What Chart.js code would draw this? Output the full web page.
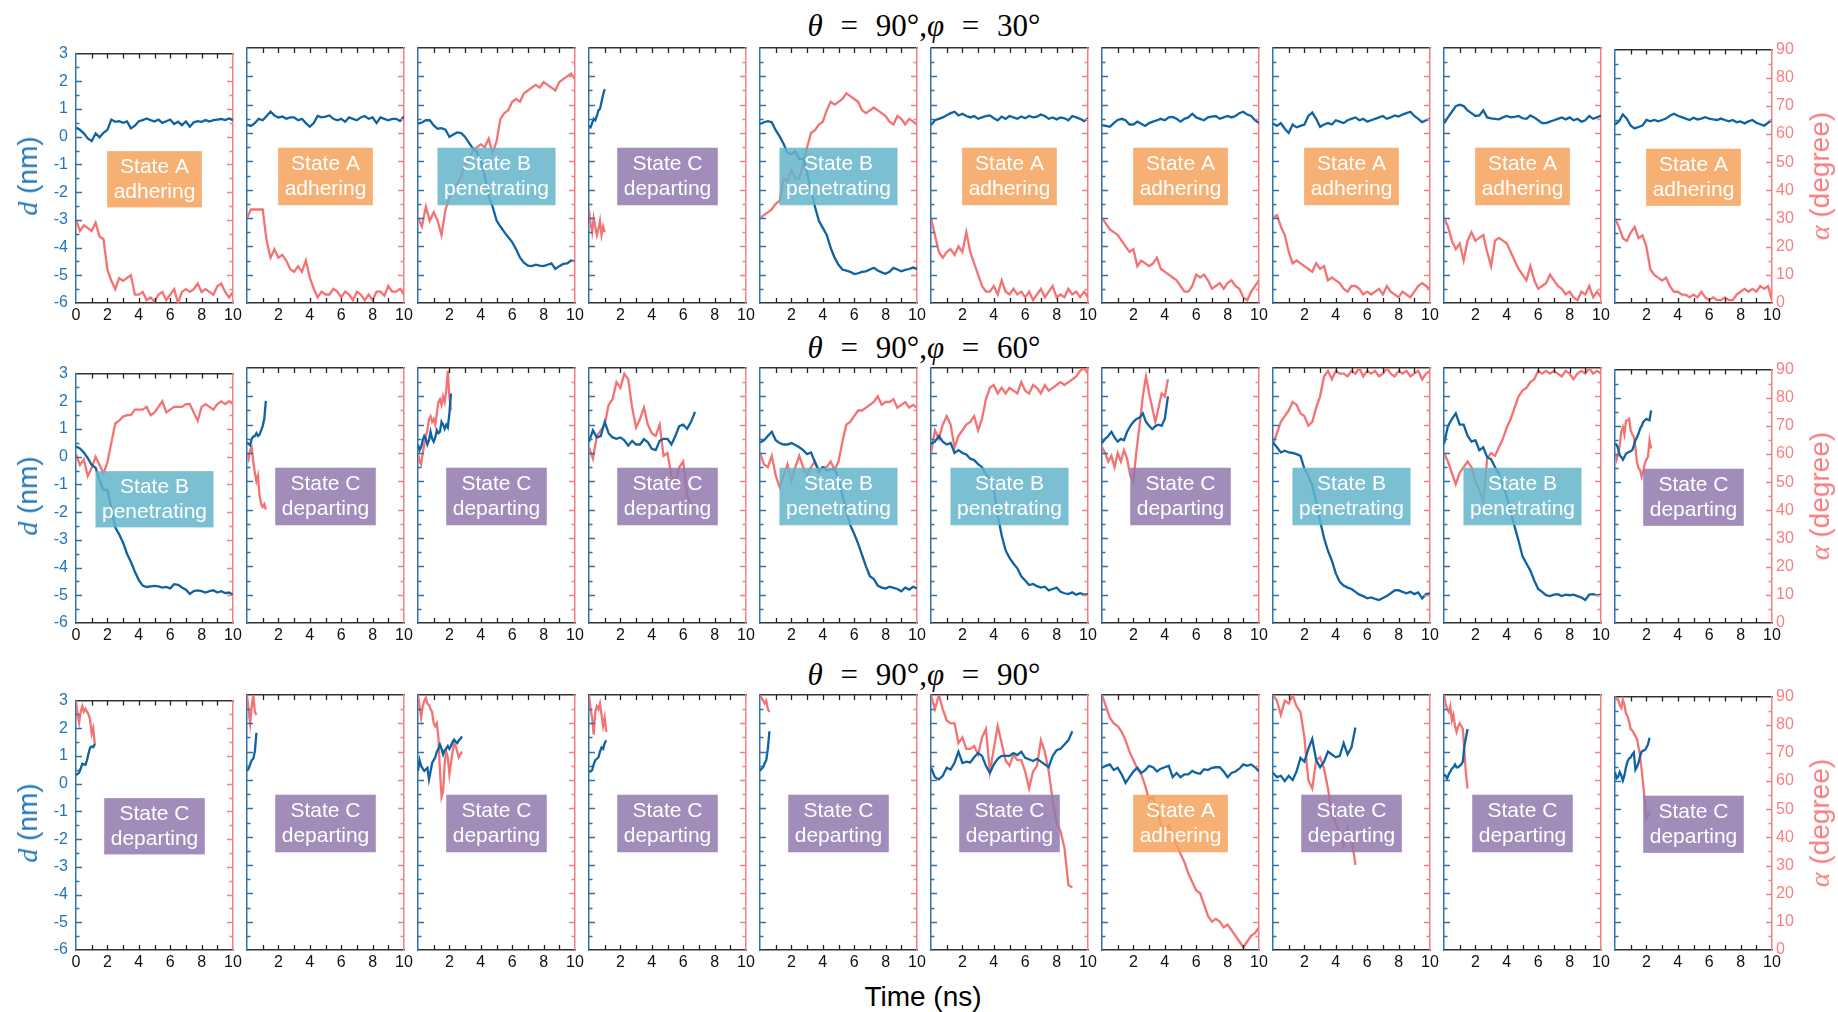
<!DOCTYPE html>
<html>
<head>
<meta charset="utf-8">
<script src="https://cdn.jsdelivr.net/npm/chart.js@4.4.1/dist/chart.umd.min.js"></script>
<style>
  html, body { margin: 0; padding: 0; background: #fff; }
  #wrap { position: relative; width: 1838px; height: 1012px; overflow: hidden; }
  #wrap canvas { position: absolute; }
  .rowTitle { position: absolute; font-family: "Liberation Serif", "DejaVu Serif", serif; font-size: 31px; color: #000;
    transform: translate(-50%, -50%); white-space: nowrap; word-spacing: 10px; }
  .yTitle { position: absolute; font-family: "Liberation Sans", Arial, sans-serif; font-size: 28px; white-space: nowrap;
    transform: translate(-50%, -50%) rotate(-90deg); }
  .yTitle i { font-family: "Liberation Serif", serif; }
  #xTitle { position: absolute; left: 923px; top: 997px; transform: translate(-50%, -50%);
    font-family: "Liberation Sans", Arial, sans-serif; font-size: 28px; color: #000; white-space: nowrap; }
</style>
</head>
<body>
<div id="wrap">
  <div class="rowTitle" style="left:924px;top:26px"><i>θ</i> = 90°,<i>φ</i> = 30°</div>
  <div class="rowTitle" style="left:924px;top:348px"><i>θ</i> = 90°,<i>φ</i> = 60°</div>
  <div class="rowTitle" style="left:924px;top:675px"><i>θ</i> = 90°,<i>φ</i> = 90°</div>
  <div id="xTitle">Time (ns)</div>
</div>
<script>
// time step (ns) of each trace, one per panel
const step30 = [0.25, 0.25, 0.25, 0.1, 0.25, 0.25, 0.25, 0.25, 0.25, 0.25];
const step60 = [0.25, 0.1, 0.1, 0.25, 0.25, 0.25, 0.2, 0.25, 0.25, 0.1];
const step90 = [0.1, 0.1, 0.1, 0.1, 0.1, 0.25, 0.25, 0.25, 0.1, 0.1];

const s30 = ['A', 'A', 'B', 'C', 'B', 'A', 'A', 'A', 'A', 'A'];
const s60 = ['B', 'C', 'C', 'C', 'B', 'B', 'C', 'B', 'B', 'C'];
const s90 = ['C', 'C', 'C', 'C', 'C', 'C', 'A', 'C', 'C', 'C'];

// d (nm), phi = 30
const d30 = [
  [0.33,0.25,0.12,-0.06,-0.16,0.12,-0.02,0.14,0.25,0.62,0.54,0.56,0.5,0.55,0.3,0.4,0.56,0.6,0.66,0.6,0.55,0.62,0.5,0.56,0.62,0.46,0.54,0.42,0.55,0.36,0.52,0.56,0.54,0.6,0.55,0.6,0.62,0.64,0.6,0.66,0.6],
  [0.3,0.25,0.35,0.5,0.45,0.6,0.75,0.62,0.55,0.58,0.5,0.55,0.55,0.45,0.5,0.35,0.22,0.35,0.6,0.55,0.58,0.62,0.5,0.45,0.5,0.4,0.55,0.5,0.45,0.55,0.6,0.5,0.55,0.35,0.55,0.5,0.45,0.5,0.5,0.42,0.58],
  [0.33,0.37,0.45,0.45,0.27,0.15,0.17,0.12,-0.14,-0.05,0.02,0.0,-0.14,-0.35,-0.55,-0.67,-1.0,-1.5,-2.2,-2.6,-3.08,-3.3,-3.5,-3.68,-3.85,-4.1,-4.4,-4.58,-4.68,-4.7,-4.65,-4.68,-4.7,-4.65,-4.6,-4.8,-4.7,-4.62,-4.6,-4.5,-4.53],
  [0.25,0.2,0.35,0.5,0.45,0.6,0.8,0.85,1.1,1.35,1.55],
  [0.32,0.38,0.42,0.38,0.1,-0.12,-0.38,-0.7,-0.75,-0.65,-0.92,-0.9,-1.4,-2.0,-2.6,-3.1,-3.35,-3.6,-4.05,-4.4,-4.65,-4.82,-4.86,-4.9,-4.98,-4.95,-4.9,-4.88,-4.82,-4.76,-4.85,-4.92,-4.97,-4.9,-4.76,-4.82,-4.88,-4.83,-4.8,-4.75,-4.8],
  [0.28,0.45,0.5,0.55,0.63,0.7,0.75,0.62,0.68,0.6,0.55,0.6,0.5,0.55,0.6,0.62,0.52,0.45,0.58,0.5,0.6,0.55,0.5,0.58,0.52,0.6,0.55,0.58,0.65,0.6,0.5,0.55,0.48,0.55,0.52,0.45,0.6,0.55,0.5,0.42,0.52],
  [0.28,0.25,0.22,0.35,0.46,0.5,0.45,0.3,0.3,0.4,0.33,0.25,0.35,0.4,0.45,0.5,0.45,0.55,0.57,0.5,0.4,0.5,0.55,0.68,0.55,0.5,0.45,0.55,0.58,0.6,0.5,0.55,0.6,0.55,0.6,0.7,0.75,0.65,0.6,0.45,0.35],
  [0.34,0.25,0.35,0.15,0.0,0.3,0.2,0.25,0.3,0.6,0.72,0.5,0.22,0.3,0.35,0.3,0.45,0.4,0.35,0.45,0.5,0.55,0.45,0.5,0.4,0.45,0.5,0.55,0.6,0.5,0.55,0.62,0.58,0.65,0.7,0.75,0.6,0.5,0.38,0.45,0.5],
  [0.34,0.55,0.75,0.95,1.0,0.95,0.8,0.7,0.6,0.62,0.8,0.55,0.52,0.5,0.48,0.55,0.6,0.55,0.57,0.6,0.52,0.5,0.62,0.55,0.45,0.35,0.35,0.4,0.45,0.5,0.55,0.48,0.55,0.45,0.5,0.4,0.45,0.6,0.5,0.55,0.62],
  [0.34,0.45,0.7,0.55,0.3,0.2,0.25,0.3,0.5,0.45,0.5,0.45,0.5,0.55,0.65,0.72,0.65,0.6,0.55,0.5,0.58,0.52,0.55,0.6,0.55,0.52,0.5,0.55,0.5,0.45,0.5,0.42,0.45,0.38,0.45,0.5,0.4,0.35,0.3,0.4,0.5]
];
// alpha (degree), phi = 30
const a30 = [
  [30,26,28,27,26,29,24,23,12,8,5,9,8,9,10,3,3,4,1,2,0.5,3,4,1,3,5,0,4,5,4,5,7,4,5,4,3,6,7,4,2,4],
  [30,33,33,33,33,22,16,19,16,17,15,12,11,13,11,15,9,5,2,4,3,3,5,4,2,4,3,1,4,3,1,3,1,4,4,2.6,6,4,4,5,3],
  [30,27,34,29,32,29,24,33,37,40,42,45,49,51,54,55,56,55,58,53,57,65,67,68,71,72,71,74,75,76,77,76,78,77,76,75,78,79,80,81,79],
  [33,28,25,30,27,24,26,29,24,27,25],
  [30,31,32,33,35,36,44,43,47,44,44,49,55,60,61,63,64,68,71,70,71,72,74,73,72,71,68,67,68,69,68,67,66,64,63,66,65,63,65,64,63],
  [30,24,18,16,18,19,17,20,18,25,18,14,10,6,4,4,6,3,8,4,3,5,3,4,2,4,1,3,5,2,4,6,2,3,2,5,3,4,2,4,2],
  [30,28,26,25,24,22,20,18,19,13,15,14,13,14,16,12,11,10,9,8,6,4,4,6,10,9,10,8,5,6,7,5,7,8,6,5,2,1,4,6,8],
  [30,31,27,24,18,14,15,14,13,12,11,14,12,13,8,9,8,7,5,4,6,6,5,3,4,3,4,5,3,6,4,3,2,4,3,2,4,6,7,6,5],
  [30,27,22,19,21,15,22,25,22,23,24,18,13,22,23,22,21,18,15,12,10,8,13,8,5,6,7,10,8,6,5,3,4,2,1,4,3,6,2,4,2],
  [30,27,23,22,25,27,23,24,20,12,10,9,8,9,6,4,4,3,3,2,3,2,4,2,1,2,1,1,2,1,1,3,4,5,4,5,4,6,5,6,1]
];

// d (nm), phi = 60
const d60 = [
  [0.37,0.3,0.15,-0.05,-0.3,-0.4,-0.85,-1.2,-1.2,-1.85,-2.55,-2.8,-3.1,-3.5,-3.8,-4.15,-4.45,-4.65,-4.7,-4.68,-4.66,-4.68,-4.72,-4.7,-4.75,-4.6,-4.62,-4.72,-4.8,-4.95,-4.85,-4.82,-4.85,-4.9,-4.85,-4.82,-4.9,-4.85,-4.92,-4.9,-4.98],
  [0.37,0.32,0.27,0.5,0.58,0.6,0.7,0.6,0.65,0.8,0.95,1.2,1.84],
  [0.3,0.1,0.2,0.45,0.6,0.5,0.3,0.45,0.75,0.5,0.4,0.55,0.8,0.7,0.75,1.1,1.0,0.85,1.0,0.9,1.4,2.1],
  [0.4,0.8,0.55,0.6,1.1,0.7,0.55,0.5,0.55,0.45,0.26,0.43,0.3,0.3,0.49,0.38,0.15,0.1,0.43,0.5,0.5,0.3,0.6,0.95,1.0,0.85,1.1,1.45],
  [0.37,0.45,0.6,0.75,0.45,0.35,0.3,0.3,0.35,0.28,0.2,0.1,-0.04,0.02,-0.33,-0.62,-0.5,-0.62,-0.58,-0.56,-0.9,-1.5,-2.05,-2.55,-2.85,-3.2,-3.6,-4.0,-4.35,-4.45,-4.68,-4.75,-4.78,-4.72,-4.76,-4.8,-4.88,-4.75,-4.82,-4.72,-4.78],
  [0.32,0.4,0.6,0.4,0.3,0.35,0.0,0.1,0.0,-0.05,-0.2,-0.25,-0.39,-0.5,-0.75,-0.9,-1.26,-2.2,-2.9,-3.43,-3.7,-3.9,-4.07,-4.35,-4.5,-4.66,-4.62,-4.7,-4.75,-4.72,-4.85,-4.8,-4.75,-4.9,-4.95,-4.98,-4.92,-5.0,-4.95,-5.0,-4.98],
  [0.35,0.5,0.6,0.75,0.55,0.4,0.5,0.45,0.75,0.95,1.1,1.2,1.25,1.4,1.1,0.96,0.84,0.95,1.0,0.96,1.2,2.0],
  [0.37,0.2,0.02,0.08,0.02,0.0,-0.04,-0.1,-0.56,-0.8,-1.15,-1.73,-2.4,-3.0,-3.45,-3.8,-4.25,-4.55,-4.68,-4.75,-4.8,-4.9,-5.0,-5.05,-5.13,-5.1,-5.15,-5.19,-5.12,-5.05,-4.95,-4.85,-4.84,-4.9,-4.95,-4.9,-4.98,-4.92,-5.13,-4.98,-4.95],
  [0.32,0.95,1.2,1.4,1.0,1.0,0.61,0.4,0.45,0.1,0.2,-0.15,-0.22,-0.5,-0.75,-1.1,-1.55,-2.1,-2.6,-3.1,-3.65,-3.9,-4.15,-4.5,-4.8,-4.9,-5.02,-5.05,-5.0,-4.98,-5.05,-5.0,-5.02,-5.0,-5.05,-5.1,-5.19,-5.0,-4.98,-5.02,-5.0],
  [0.37,0.33,0.2,-0.04,-0.1,-0.2,-0.1,0.02,0.05,0.08,0.1,0.14,0.3,0.49,0.6,0.73,0.9,1.0,1.14,1.2,1.25,1.22,1.2,1.55]
];
// alpha (degree), phi = 60
const a60 = [
  [61,57,59,53,56,60,57,54,58,65,72,73,74.5,75,75,77,77,77,78,75,76,78,80,76,77,78,78,78,79,79,76,73,78,79,78,77,79,80,79,80,79],
  [60,58,61,62,57,53,50,52,45,42,41,42,40],
  [60,57,56,60,63,66,68,72,73,71,72,70,74,78,79,77,80,78,82,89,80,75],
  [62,58,66,68,70,77,79,85,83,88,86,76,69,72,76,70,67,66,70,59,60,52,50,55,57,45,42,41],
  [60,56,55,59,52,48,52,56,50,55,59,55,52,55,57,53,55,55,57,54,57,64,70,71,73,75,75,76,77,78,80,77,78,78,79,76,77,78,76,77,76],
  [60,68,65,70,73,70,62,66,68,70,71,73,68,72,79,83,84,81,83,81,83,82,81,85,82,81,84,83,81,84,82,83,84,85,84,85,86,87,89,90,88],
  [62,60,57,59,55,60,57,61,58,52,50,61,70,80,87,81,76,71,76,81,80,86],
  [63,67,71,73,75,78,77,74,73,69.6,71,76,80,87,89,86,89,88,88,87,89,88,90,87,89,88,89,87,88,90,88,87,89,88,89,87,88,89,86,88,89],
  [60,57,53,49,53,55,57,55,50,47,43,58,60,59,62,65,69,72,76,80,82,83,85,86,89,88,89,88,89,88,87,89,88,86,88,89,88,90,88,89,88],
  [60,58,60,63,68,69.6,67,71.9,72,72.5,68.4,67,66,62.5,57,55,54.3,52,54,56.7,58,59,64.9,62]
];

// d (nm), phi = 90
const d90 = [
  [0.32,0.35,0.4,0.55,0.72,0.7,0.68,0.85,1.1,1.3,1.35,1.32,1.43],
  [0.32,0.4,0.55,0.7,0.75,1.0,1.66],
  [0.32,0.7,0.5,0.4,0.32,0.38,0.43,0.02,0.3,0.6,0.7,0.8,1.0,1.1,1.25,1.1,0.9,1.05,1.1,1.2,1.1,1.2,1.35,1.43,1.35,1.3,1.4,1.45,1.54],
  [0.32,0.3,0.35,0.55,0.7,0.75,0.8,1.0,1.15,1.1,1.3,1.4],
  [0.32,0.4,0.45,0.6,0.7,1.1,1.72],
  [0.43,0.1,0.02,0.15,0.43,0.37,0.61,1.0,0.6,0.65,0.62,0.8,0.95,0.85,0.5,0.25,0.55,0.75,0.85,0.85,0.85,0.95,0.88,1.0,0.78,0.73,0.67,0.75,0.65,0.55,0.45,0.85,1.05,1.1,1.25,1.4,1.72],
  [0.43,0.5,0.55,0.35,0.43,0.2,-0.1,0.1,0.3,0.43,0.25,0.35,0.5,0.45,0.3,0.4,0.45,0.5,0.1,0.25,0.1,0.2,0.2,0.32,0.25,0.22,0.38,0.35,0.43,0.45,0.45,0.3,0.1,0.25,0.3,0.4,0.55,0.5,0.55,0.45,0.3],
  [0.26,0.1,0.15,-0.04,0.15,0.0,0.3,0.78,0.65,1.1,1.45,0.7,0.45,0.65,1.0,0.9,0.8,0.85,1.3,0.9,1.15,1.85],
  [0.2,0.15,0.05,0.2,0.3,0.4,0.45,0.55,0.45,0.45,0.5,0.55,0.65,1.2,1.5,1.8],
  [0.32,0.1,0.15,0.32,0.2,0.02,0.2,0.5,0.7,0.8,0.84,0.95,1.02,0.4,0.5,0.65,0.9,1.05,1.08,1.1,1.19,1.3,1.54]
];
// alpha (degree), phi = 90
const a90 = [
  [90,85,82,86,88,86,87,86,85,83,78,80,74],
  [90,85,80,86,90,84,83],
  [90,86,82,86,88,89,87,86.5,85,84,80,79,80,75,63,54,56,66,70,68,62,66,70,73,72,70,68,69,70],
  [90,85,82,76,84,86,85,87,83,79,82,77],
  [90,89,88,87,88,85,84],
  [90,85,90,85,81,80,80,73,75,71,71,72,69,75,78,63,71,79,73,67,65,69,67,67,63,57,63,65,74,70,63,53,45,42,36,23,22],
  [90,86,82,80,79,77,74,70,67,64,62,58,53,54,50,44,42,44,40,37,34,31,27,24,21,20,16,12,10,11,10,8,9,7,5,3,1,3,5,6,8],
  [90,88,83,88,87,90,86,84,75,60,57,67,68,64,57,48,45,41,37,43,40,30],
  [90,87,85,84,86,81,83,79,77,79,80,79,78,70,62,57],
  [90,89,89,87,86,88.9,87,84,83,81,78.4,78,77,76,75,72,69,64,58.5,53,47,48,49]
];

const rows = [
  { d: d30, a: a30, step: step30, state: s30 },
  { d: d60, a: a60, step: step60, state: s60 },
  { d: d90, a: a90, step: step90, state: s90 }
];

const stateText = { A: ['State A', 'adhering'], B: ['State B', 'penetrating'], C: ['State C', 'departing'] };
const stateFill = { A: 'rgba(246,162,90,0.85)', B: 'rgba(100,181,202,0.85)', C: 'rgba(144,120,174,0.85)' };

const BLUE = '#0f63a3', RED = '#f37373';
const BLUE_AX = '#2f72ad', RED_AX = '#f28080';
const BLUE_TXT = '#1f76b9', RED_TXT = '#f77f7f';
const TICK_FONT = { family: '"Liberation Sans", Arial, sans-serif', size: 16 };

// panel geometry
const rowTop = [48, 368, 695];
const X0 = 76, PITCH = 171, PW = 157, PH = 255;
const ML = 76, MR = 70, MT = 12, MB = 30;

const wrap = document.getElementById('wrap');

// state label box, drawn over the lines (semi transparent)
const stateBox = {
  id: 'stateBox',
  afterDatasetsDraw(chart, args, opts) {
    const { ctx, chartArea: a, scales: { y } } = chart;
    const lines = stateText[opts.state];
    ctx.save();
    ctx.font = '21px "Liberation Sans", Arial, sans-serif';
    const w = Math.max(...lines.map(t => ctx.measureText(t).width)) + 13;
    const top = y.getPixelForValue(-0.52), bot = y.getPixelForValue(-2.55);
    const cx = (a.left + a.right) / 2, cy = (top + bot) / 2;
    ctx.fillStyle = stateFill[opts.state];
    ctx.fillRect(cx - w / 2, top, w, bot - top);
    ctx.fillStyle = '#fff';
    ctx.textAlign = 'center';
    ctx.textBaseline = 'middle';
    ctx.fillText(lines[0], cx, cy - 12);
    ctx.fillText(lines[1], cx, cy + 12.5);
    ctx.restore();
  }
};

// inward tick marks on all four sides
const innerTicks = {
  id: 'innerTicks',
  afterDraw(chart) {
    const { ctx, chartArea: a, scales: { x, y, y1 } } = chart;
    ctx.save();
    ctx.lineWidth = 1.3;
    ctx.strokeStyle = '#222';
    ctx.beginPath();
    for (let v = 1; v < 10; v++) {
      const px = Math.round(x.getPixelForValue(v)) + 0.5;
      ctx.moveTo(px, a.bottom); ctx.lineTo(px, a.bottom - 5);
      ctx.moveTo(px, a.top); ctx.lineTo(px, a.top + 5);
    }
    ctx.stroke();
    ctx.strokeStyle = BLUE_AX;
    ctx.beginPath();
    for (let v = -5.5; v < 3; v += 0.5) {
      const py = Math.round(y.getPixelForValue(v)) + 0.5;
      const len = Number.isInteger(v) ? 6 : 3.5;
      ctx.moveTo(a.left, py); ctx.lineTo(a.left + len, py);
    }
    ctx.stroke();
    ctx.strokeStyle = RED_AX;
    ctx.beginPath();
    for (let v = 5; v < 90; v += 5) {
      const py = Math.round(y1.getPixelForValue(v)) + 0.5;
      const len = v % 10 === 0 ? 6 : 3.5;
      ctx.moveTo(a.right, py); ctx.lineTo(a.right - len, py);
    }
    ctx.stroke();
    ctx.restore();
  }
};

function makePanel(row, col) {
  const r = rows[row];
  const cv = document.createElement('canvas');
  cv.width = ML + PW + MR;
  cv.height = MT + PH + MB;
  cv.style.left = (X0 + col * PITCH - ML) + 'px';
  cv.style.top = (rowTop[row] - MT) + 'px';
  wrap.appendChild(cv);

  const step = r.step[col];
  const dPts = r.d[col].map((v, i) => ({ x: +(i * step).toFixed(2), y: v }));
  const aPts = r.a[col].map((v, i) => ({ x: +(i * step).toFixed(2), y: v }));

  new Chart(cv, {
    type: 'line',
    data: {
      datasets: [
        { data: dPts, yAxisID: 'y', borderColor: BLUE, borderWidth: 2.3, pointRadius: 0, tension: 0 },
        { data: aPts, yAxisID: 'y1', borderColor: RED, borderWidth: 2.3, pointRadius: 0, tension: 0 }
      ]
    },
    options: {
      responsive: false,
      animation: false,
      devicePixelRatio: 1,
      events: [],
      layout: { padding: { top: MT, left: 0, right: 0, bottom: 0 } },
      plugins: { legend: { display: false }, tooltip: { enabled: false }, stateBox: { state: r.state[col] } },
      scales: {
        x: {
          type: 'linear', position: 'bottom', min: 0, max: 10,
          ticks: {
            stepSize: 1, autoSkip: false, maxRotation: 0, padding: 3, color: '#111', font: TICK_FONT,
            callback: v => (v % 2 === 0 && (v > 0 || col === 0)) ? String(v) : ''
          },
          grid: { display: false, drawTicks: false },
          border: { display: true, color: '#333', width: 1.5 },
          afterFit: s => { s.height = MB; }
        },
        xt: {
          type: 'linear', position: 'top', min: 0, max: 10,
          ticks: { display: false },
          grid: { display: false, drawTicks: false },
          border: { display: true, color: '#333', width: 1.5 },
          afterFit: s => { s.height = 0; }
        },
        y: {
          type: 'linear', position: 'left', min: -6, max: 3,
          ticks: { stepSize: 1, display: col === 0, padding: 8, color: BLUE_TXT, font: TICK_FONT },
          grid: { display: false, drawTicks: false },
          border: { display: true, color: BLUE_AX, width: 1.5 },
          afterFit: s => { s.width = ML; }
        },
        y1: {
          type: 'linear', position: 'right', min: 0, max: 90,
          ticks: { stepSize: 10, display: col === 9, padding: 4, color: RED_TXT, font: TICK_FONT },
          grid: { display: false, drawTicks: false },
          border: { display: true, color: RED_AX, width: 1.5 },
          afterFit: s => { s.width = MR; }
        }
      }
    },
    plugins: [stateBox, innerTicks]
  });
}

for (let row = 0; row < 3; row++) {
  for (let col = 0; col < 10; col++) makePanel(row, col);
  const cy = rowTop[row] + PH / 2;
  const lt = document.createElement('div');
  lt.className = 'yTitle';
  lt.style.left = '28px';
  lt.style.top = cy + 'px';
  lt.style.color = BLUE_TXT;
  lt.innerHTML = '<i>d</i> (nm)';
  wrap.appendChild(lt);
  const rt = document.createElement('div');
  rt.className = 'yTitle';
  rt.style.left = '1820px';
  rt.style.top = cy + 'px';
  rt.style.color = RED_TXT;
  rt.innerHTML = '<i>α</i> (degree)';
  wrap.appendChild(rt);
}
</script>
</body>
</html>
